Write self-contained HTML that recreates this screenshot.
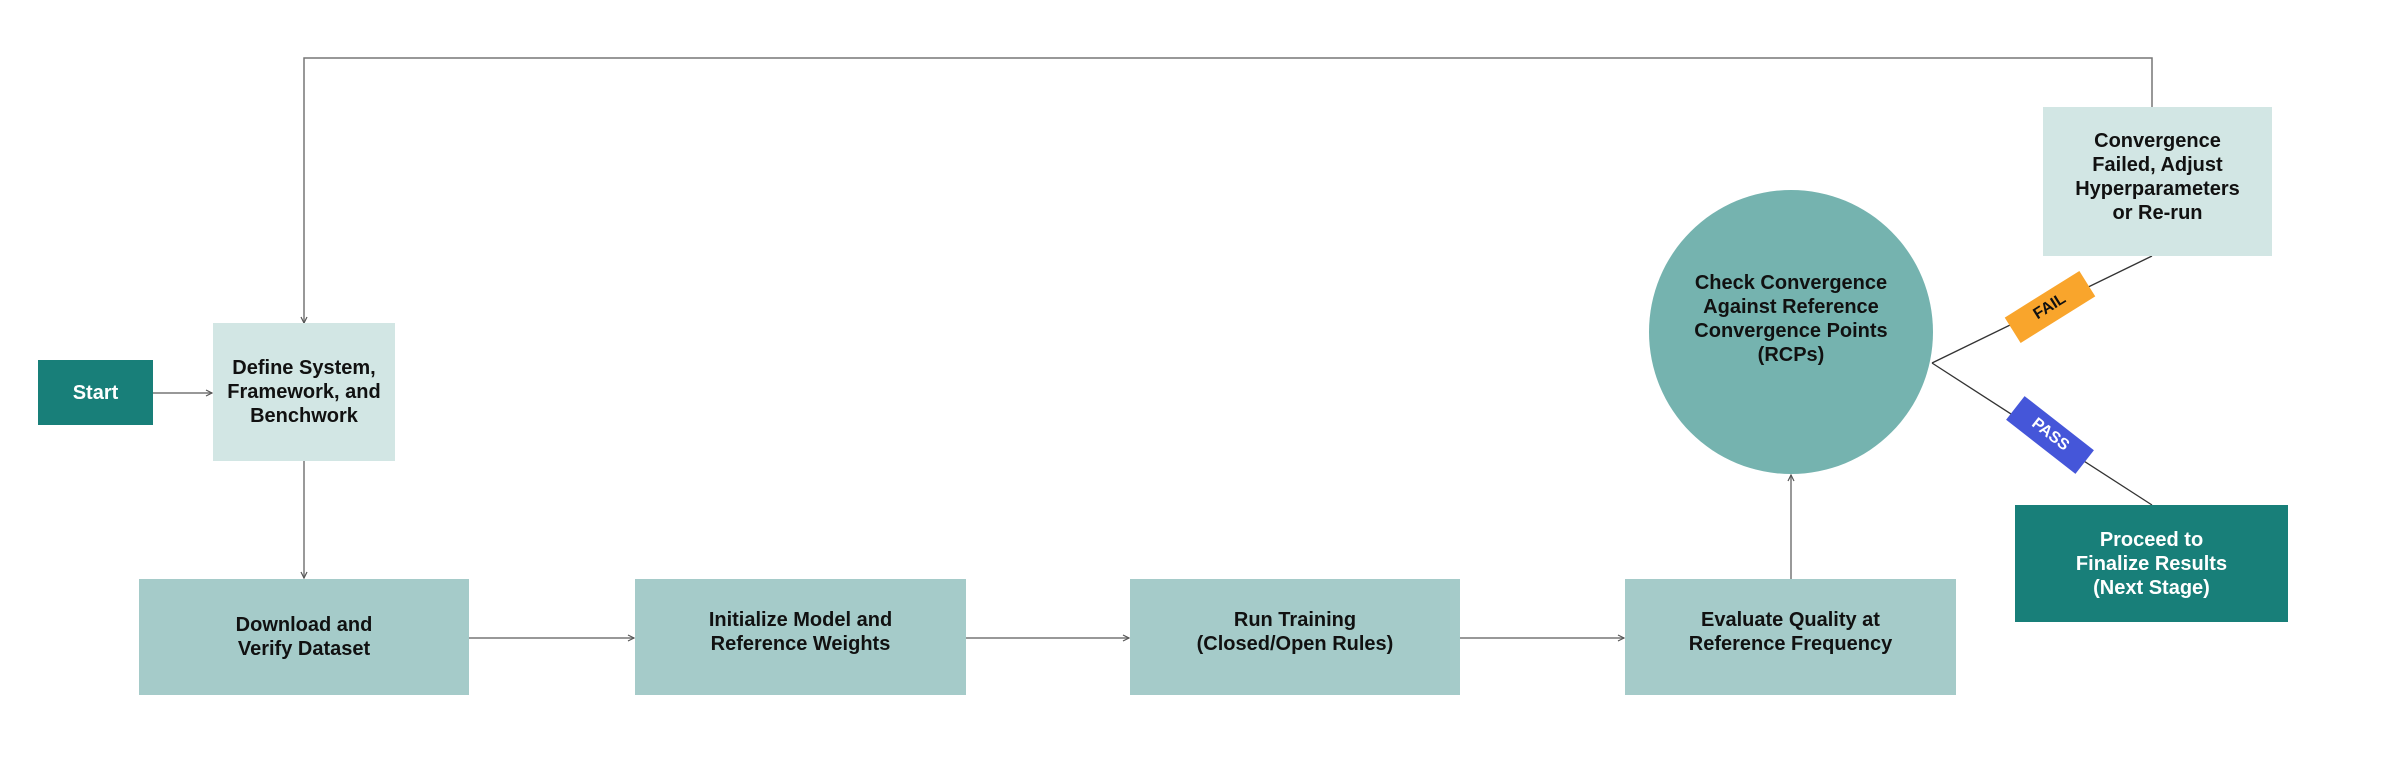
<!DOCTYPE html>
<html><head><meta charset="utf-8"><style>
html,body{margin:0;padding:0;background:#fff}
body{width:2400px;height:763px;position:relative;overflow:hidden;font-family:"Liberation Sans",sans-serif}
.b{position:absolute;display:flex;align-items:center;justify-content:center;text-align:center;font-weight:bold;font-size:20px;line-height:24px;color:#111;box-sizing:border-box}
.badge{position:absolute;width:88px;height:30px;display:flex;align-items:center;justify-content:center;font-weight:bold;font-size:16px;font-family:"Liberation Sans",sans-serif}
</style></head><body>
<svg width="2400" height="763" style="position:absolute;left:0;top:0">
<defs><marker id="a" markerWidth="8" markerHeight="8" refX="7" refY="4" orient="auto" markerUnits="userSpaceOnUse"><path d="M1,1 L7,4 L1,7" fill="none" stroke="#555" stroke-width="1.2"/></marker></defs>
<g stroke="#777" stroke-width="1.5" fill="none">
<polyline points="2152,107 2152,58 304,58 304,323" marker-end="url(#a)"/>
<line x1="153" y1="393" x2="212" y2="393" marker-end="url(#a)"/>
<line x1="304" y1="461" x2="304" y2="578" marker-end="url(#a)"/>
<line x1="468" y1="638" x2="634" y2="638" marker-end="url(#a)"/>
<line x1="966" y1="638" x2="1129" y2="638" marker-end="url(#a)"/>
<line x1="1460" y1="638" x2="1624" y2="638" marker-end="url(#a)"/>
<line x1="1791" y1="579" x2="1791" y2="475" marker-end="url(#a)"/>
</g>
<g stroke="#333" stroke-width="1.3">
<line x1="1932" y1="363" x2="2152" y2="256"/>
<line x1="1932" y1="363" x2="2152" y2="505"/>
</g>
<circle cx="1791" cy="332" r="142" fill="#75b3af"/>
</svg>
<div class="b" style="left:38px;top:360px;width:115px;height:65px;background:#187f79;color:#fff">Start</div>
<div class="b" style="left:213px;top:323px;width:182px;height:138px;background:#d2e6e4">Define System,<br>Framework, and<br>Benchwork</div>
<div class="b" style="left:139px;top:579px;width:330px;height:116px;background:#a5cbc9">Download and<br>Verify Dataset</div>
<div class="b" style="left:635px;top:579px;width:331px;height:116px;background:#a5cbc9;padding-bottom:10px">Initialize Model and<br>Reference Weights</div>
<div class="b" style="left:1130px;top:579px;width:330px;height:116px;background:#a5cbc9;padding-bottom:10px">Run Training<br>(Closed/Open Rules)</div>
<div class="b" style="left:1625px;top:579px;width:331px;height:116px;background:#a5cbc9;padding-bottom:10px">Evaluate Quality at<br>Reference Frequency</div>
<div class="b" style="left:1650px;top:190px;width:282px;height:284px;padding-bottom:26px">Check Convergence<br>Against Reference<br>Convergence Points<br>(RCPs)</div>
<div class="b" style="left:2043px;top:107px;width:229px;height:149px;background:#d2e6e4;padding-bottom:10px">Convergence<br>Failed, Adjust<br>Hyperparameters<br>or Re-run</div>
<div class="b" style="left:2015px;top:505px;width:273px;height:117px;background:#187f79;color:#fff">Proceed to<br>Finalize Results<br>(Next Stage)</div>
<div class="badge" style="left:2006px;top:292px;background:#f9a52c;color:#111;transform:rotate(-32deg)">FAIL</div>
<div class="badge" style="left:2006px;top:420px;background:#4556d9;color:#fff;transform:rotate(38deg)">PASS</div>
</body></html>
